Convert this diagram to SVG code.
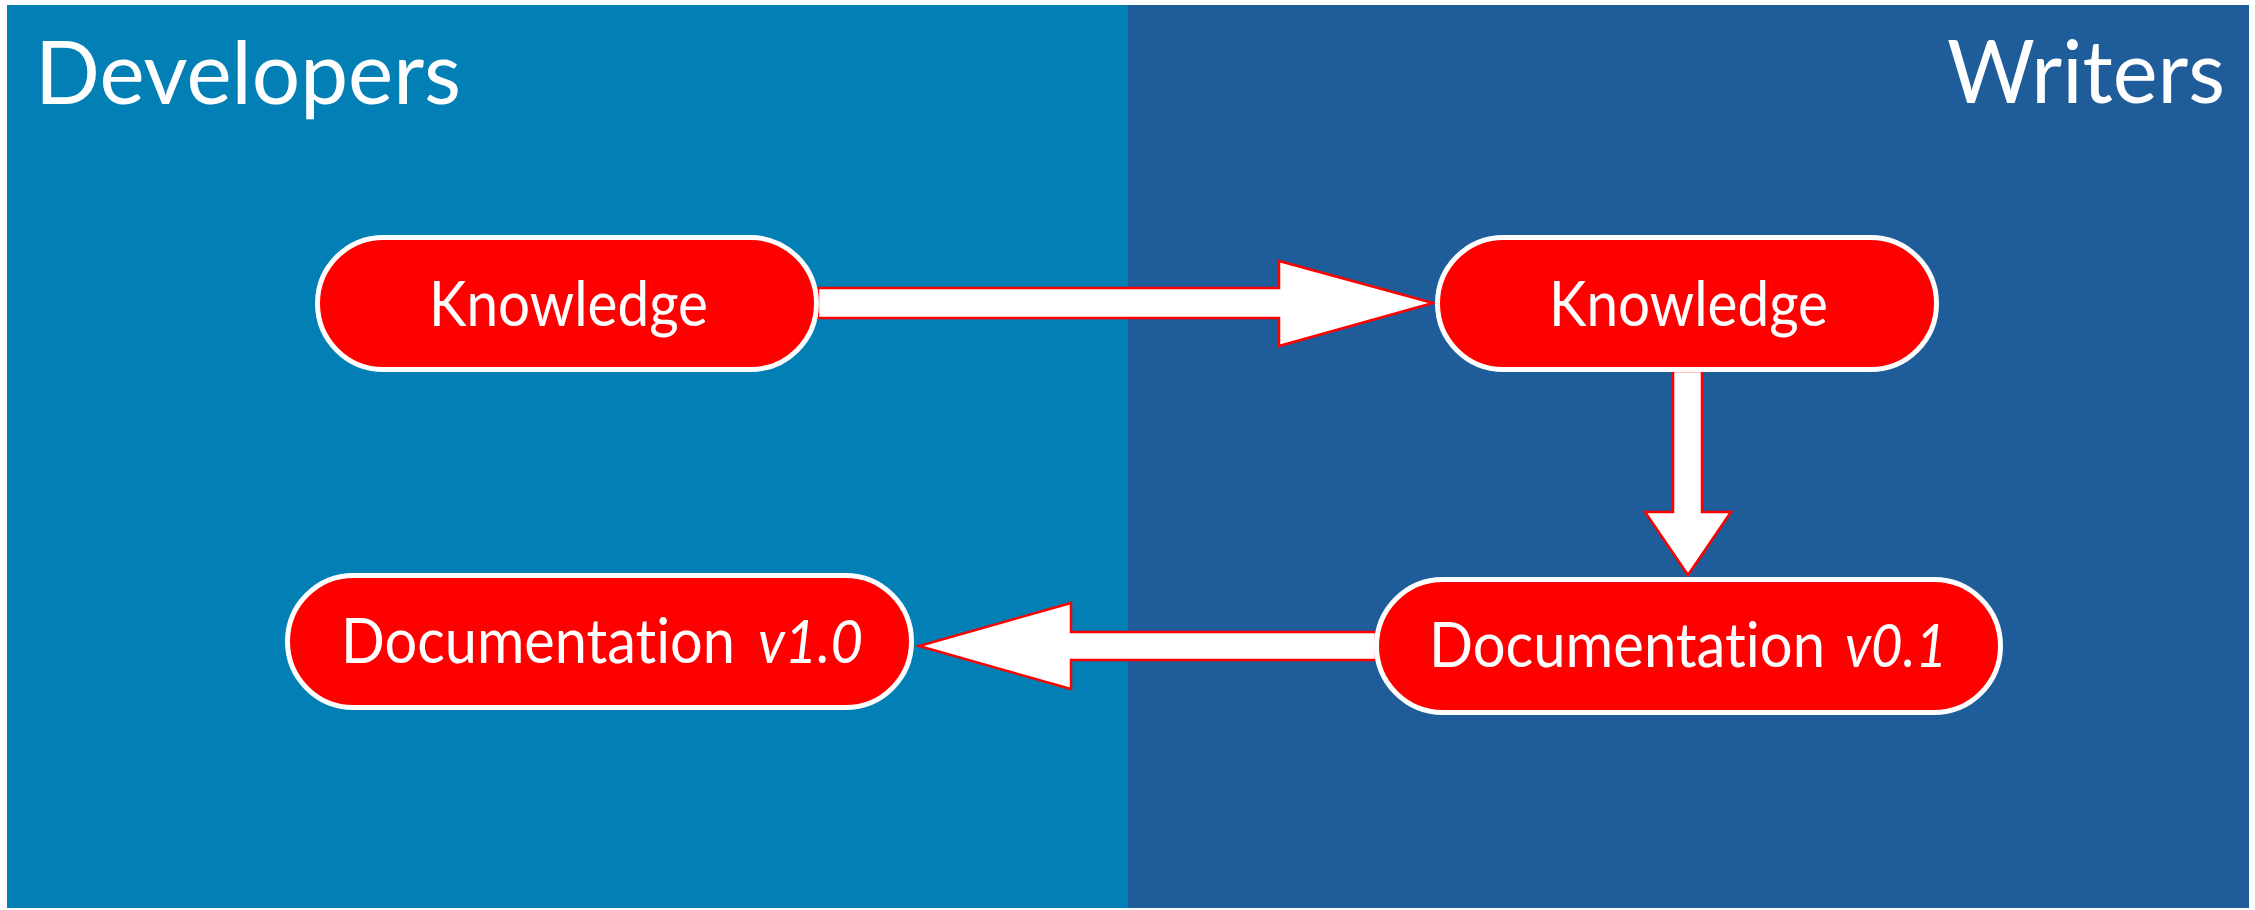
<svg xmlns="http://www.w3.org/2000/svg" width="2255" height="910" viewBox="0 0 2255 910">
<style>
.lane-title{font-family:Lato,"Open Sans","Liberation Sans",sans-serif;font-size:87px;fill:#ffffff;font-variant-ligatures:none}
.node rect{fill:#ff0000;stroke:#ffffff;stroke-width:5}
.node text{font-family:Lato,"Open Sans","Liberation Sans",sans-serif;font-size:61px;fill:#ffffff;font-variant-ligatures:none}
.node text.ver{font-style:italic}
.arrow{fill:#ffffff;stroke:#ff0000;stroke-width:2.5;stroke-linejoin:miter}
</style>
<rect x="0" y="0" width="2255" height="910" fill="#ffffff"/>
<g id="lane-developers">
<rect x="7" y="5" width="1121" height="903" fill="#027fb5"/>
<text class="lane-title" x="35" y="104" textLength="426" lengthAdjust="spacingAndGlyphs">Developers</text>
</g>
<g id="lane-writers">
<rect x="1128" y="5" width="1121" height="903" fill="#1f5d9a"/>
<text class="lane-title" x="1947" y="103" textLength="278" lengthAdjust="spacingAndGlyphs">Writers</text>
</g>
<g id="connectors">
<polygon class="arrow" points="818,288 1279,288 1279,261 1433,303 1279,346 1279,318 818,318"/>
<polygon class="arrow" points="1673,371 1702,371 1702,512 1731,512 1688,575 1645,512 1673,512"/>
<polygon class="arrow" points="1376,632 1071,632 1071,603 919,646 1071,689 1071,660 1376,660"/>
</g>
<g id="node-dev-knowledge" class="node">
<rect x="317.5" y="237.5" width="499" height="132" rx="66" ry="66"/>
<text x="429" y="326" textLength="279" lengthAdjust="spacingAndGlyphs">Knowledge</text>
</g>
<g id="node-writer-knowledge" class="node">
<rect x="1437.5" y="237.5" width="499" height="132" rx="66" ry="66"/>
<text x="1549" y="326" textLength="279" lengthAdjust="spacingAndGlyphs">Knowledge</text>
</g>
<g id="node-doc-v01" class="node">
<rect x="1376.5" y="579.5" width="624" height="133" rx="66.5" ry="66.5"/>
<text x="1429" y="667" textLength="396" lengthAdjust="spacingAndGlyphs">Documentation</text>
<text class="ver" x="1845" y="667" textLength="102" lengthAdjust="spacingAndGlyphs">v0.1</text>
</g>
<g id="node-doc-v10" class="node">
<rect x="287.5" y="575.5" width="624" height="132" rx="66" ry="66"/>
<text x="341" y="663" textLength="394" lengthAdjust="spacingAndGlyphs">Documentation</text>
<text class="ver" x="758" y="663" textLength="105" lengthAdjust="spacingAndGlyphs">v1.0</text>
</g>
</svg>
